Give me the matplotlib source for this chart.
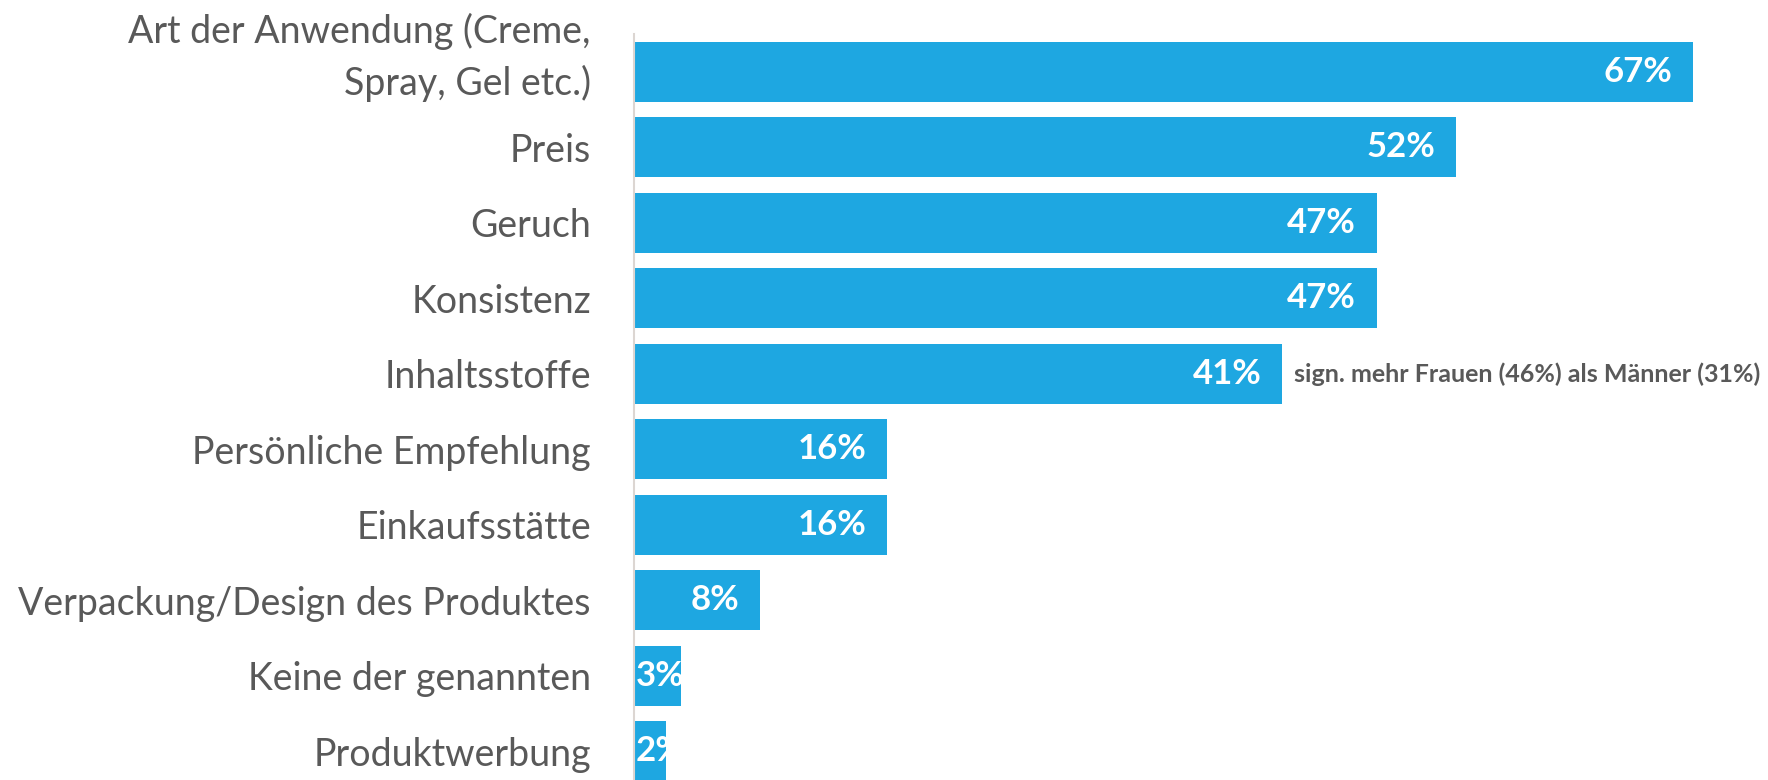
import matplotlib.pyplot as plt
from matplotlib.transforms import ScaledTranslation

kategorien = [
    "Art der Anwendung (Creme,\nSpray, Gel etc.)",
    "Preis",
    "Geruch",
    "Konsistenz",
    "Inhaltsstoffe",
    "Persönliche Empfehlung",
    "Einkaufsstätte",
    "Verpackung/Design des Produktes",
    "Keine der genannten",
    "Produktwerbung",
]
werte = [67, 52, 47, 47, 41, 16, 16, 8, 3, 2]
hinweis = "sign. mehr Frauen (46%) als Männer (31%)"
hinweis_index = 4

BLAU = "#1ea7e1"
GRAU = "#595959"

plt.rcParams['font.family'] = ['Lato', 'DejaVu Sans']

fig = plt.figure(figsize=(17.68, 7.8), dpi=100)
ax = fig.add_axes([634 / 1768, 0, 1 - 634 / 1768, 746 / 780])

pos = list(range(len(werte)))
bars = ax.barh(pos, werte, height=0.8, color=BLAU)

ax.set_xlim(0, (1768 - 634) / 15.8)
ax.set_ylim(9.38, -0.5)

for bar, w in zip(bars, werte):
    y = bar.get_y() + bar.get_height() / 2
    if w >= 5:
        ax.text(w - 1.3, y, f"{w}%", ha='right', va='center', color='white',
                fontsize=25, fontweight='bold')
    else:
        # zu schmale Balken: Beschriftung links ansetzen und am Balken abschneiden
        t = ax.text(0.1, y, f"{w}%", ha='left', va='center', color='white',
                    fontsize=25, fontweight='bold')
        t.set_clip_path(bar)

ax.text(werte[hinweis_index] + 0.8, hinweis_index, hinweis, ha='left', va='center',
        color=GRAU, fontsize=18, fontweight='bold')

ax.set_yticks(pos)
ax.set_yticklabels(kategorien, fontsize=27, color=GRAU, linespacing=1.5)
ax.tick_params(axis='y', length=0, pad=31)
ax.set_xticks([])

# zweizeiliges Label etwas nach oben schieben
lbl = ax.get_yticklabels()[0]
lbl.set_transform(lbl.get_transform() + ScaledTranslation(0, 18.5 / 72, fig.dpi_scale_trans))

for s in ['top', 'right', 'bottom']:
    ax.spines[s].set_visible(False)
ax.spines['left'].set_color('#dcd6d2')
ax.spines['left'].set_linewidth(1.5)

fig.savefig("out.png", dpi=100, facecolor='white')
